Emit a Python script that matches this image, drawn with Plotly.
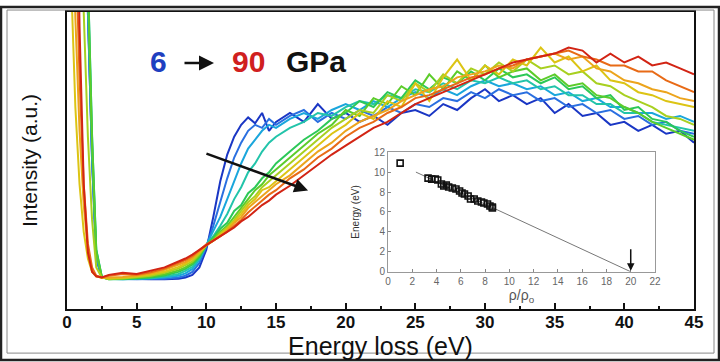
import plotly.graph_objects as go

# ---------------- data ----------------
energy = [0.3, 0.6, 0.9, 1.2, 1.5, 1.8, 2.1, 2.5,
          3, 4, 5, 6, 7, 8,
          8.5, 9, 9.5, 10, 10.5, 11, 11.5, 12, 12.5, 13, 13.5, 14, 14.5, 15,
          16, 17, 18, 19, 20, 21, 22, 23, 24, 25, 26, 27, 28, 29, 30,
          31, 32, 33, 34, 35, 36, 37, 38, 39, 40, 41, 42, 43, 44, 45]

s_blue = [420, 330, 240, 160, 100, 50, 17, 10.6,
          10.4, 10.2, 10.1, 10.0, 10.0, 10.2,
          10.6, 11.5, 14, 20, 31, 43, 52, 58, 62, 64.5, 62.5, 66, 60, 63,
          66, 63, 69, 64, 66, 63, 65, 62, 66, 67, 65, 69, 67, 71, 74,
          70, 72, 69, 71, 66, 69, 65, 66, 62, 63, 60, 62, 59, 60, 56]
s_mblue = [420, 330, 240, 160, 100, 50, 17, 10.6,
           10.3, 10.1, 10.0, 10.1, 10.2, 10.6,
           11.2, 12.5, 15.5, 21, 28, 36, 44, 51, 56, 60, 62, 61, 64, 62,
           65, 67, 63, 66, 64, 67, 65, 68, 66, 69, 68, 71, 70, 73, 71,
           74, 72, 73, 70, 71, 68, 69, 66, 67, 64, 65, 62, 63, 60, 59]
s_cyan = [420, 330, 240, 160, 102, 52, 18, 10.6,
          10.2, 10.0, 10.1, 10.3, 10.6, 11.2,
          12, 13.5, 16.5, 21.5, 26, 31, 37, 43, 49, 54, 57, 60, 62, 61,
          64, 66, 64, 67, 69, 67, 70, 68, 71, 73, 71, 74, 72, 75, 77,
          75, 76, 74, 75, 72, 73, 70, 71, 68, 68, 66, 66, 64, 65, 63]
s_teal = [440, 350, 260, 175, 112, 58, 20, 10.8,
          10.1, 10.0, 10.2, 10.4, 10.9, 11.8,
          12.8, 14.2, 17, 21.5, 24.5, 28, 32, 37, 41, 46, 49, 53, 56, 58,
          61, 63, 66, 65, 68, 70, 69, 72, 71, 74, 73, 76, 74, 77, 76,
          78, 76, 77, 74, 75, 72, 72, 69, 69, 66, 66, 63, 62, 61, 60]
s_green = [440, 350, 260, 175, 112, 58, 20, 10.8,
           10.0, 10.1, 10.3, 10.6, 11.3, 12.5,
           13.5, 15, 17.5, 21.5, 24, 27, 29, 33, 35, 39, 41, 44, 46, 49,
           53, 57, 60, 64, 66, 70, 68, 73, 71, 77, 74, 78, 76, 80, 77,
           81, 78, 79, 76, 78, 74, 75, 71, 72, 67, 68, 64, 63, 60, 58]
s_green2 = [430, 340, 250, 170, 108, 55, 19, 10.8,
            10.0, 10.2, 10.5, 10.9, 11.7, 13,
            14, 15.5, 18, 21.5, 23.5, 26, 28, 31, 34, 37, 40, 42, 45, 47,
            51, 55, 59, 62, 67, 65, 71, 69, 75, 72, 79, 74, 80, 77, 82,
            78, 80, 81, 77, 79, 75, 76, 72, 71, 68, 66, 63, 61, 59, 57]
s_ygreen = [300, 220, 150, 100, 58, 30, 14, 10.6,
            10.2, 10.3, 10.7, 11.2, 12.2, 13.6,
            14.8, 16, 18.5, 21.5, 23, 25.5, 27.5, 30, 33, 36, 38, 41, 43, 45,
            49, 53, 57, 61, 64, 67, 66, 72, 70, 76, 73, 79, 76, 81, 79,
            83, 80, 84, 81, 82, 79, 80, 76, 75, 72, 70, 68, 65, 64, 62]
s_yellow = [110, 68, 42, 26, 17, 12.5, 11, 10.5,
            10.3, 10.5, 11, 11.6, 12.6, 14.2,
            15.3, 16.8, 19, 21.5, 23, 25, 27, 29.5, 32, 35, 37, 40, 41, 43,
            47, 51, 55, 59, 62, 66, 64, 70, 68, 76, 70, 78, 84, 77, 82,
            79, 84, 82, 88, 83, 85, 80, 82, 77, 76, 73, 72, 70, 69, 68]
s_gold = [160, 98, 60, 35, 20, 13, 11, 10.5,
          10.6, 10.8, 11.3, 12, 13.2, 14.8,
          15.8, 17.2, 19.4, 21.5, 23, 24.5, 26.5, 29, 31, 34, 36, 38, 40, 42,
          45, 49, 53, 56, 60, 63, 65, 67, 70, 72, 74, 75, 78, 79, 80,
          82, 81, 84, 85, 86, 84, 85, 81, 80, 77, 76, 74, 73, 71, 70]
s_orange = [200, 128, 78, 42, 22, 14, 11.2, 10.6,
            11.2, 11.8, 11.5, 12.4, 13.6, 15.4,
            16.5, 17.8, 19.8, 21.8, 23, 24.5, 26, 28, 30, 32.5, 34.5, 36.5, 38.5, 40,
            44, 47, 51, 54, 58, 61, 63, 66, 68, 71, 72, 74, 76, 78, 79,
            81, 82, 84, 85, 86, 87, 85, 84, 82, 82, 80, 80, 77, 75, 73]
s_red = [300, 180, 95, 42, 19, 12.5, 11, 10.6,
         11.5, 12.2, 11.8, 12.8, 14, 16,
         17, 18.3, 20, 21.5, 23, 24.5, 26, 27.5, 29.5, 31, 33, 35, 36.5, 38.5,
         41.5, 45, 48.5, 52, 55, 58, 61, 63, 66, 69, 71, 73, 75, 77, 79,
         81, 83, 84, 85, 86, 88, 87, 83, 86, 83, 85, 82, 83, 81, 79]

series = [s_blue, s_mblue, s_cyan, s_teal, s_green, s_green2,
          s_ygreen, s_yellow, s_gold, s_orange, s_red]
colors = ["#1a36c4", "#2a6fe0", "#1aa6dc", "#22c4aa", "#2cc858", "#5ccc2a",
          "#a8d020", "#dcc414", "#eca41c", "#e86a16", "#d22414"]

# inset data
rho = [1.0, 3.3, 3.6, 3.9, 4.1, 4.4, 4.6, 4.8, 5.0, 5.3, 5.6, 5.9, 6.1, 6.3,
       6.6, 6.8, 7.1, 7.4, 7.7, 7.9, 8.2, 8.4, 8.6, 8.6]
e_plasmon = [10.9, 9.4, 9.3, 9.3, 9.2, 8.8, 8.6, 8.7, 8.5, 8.4, 8.3, 8.1, 7.9, 7.8,
             7.6, 7.3, 7.3, 7.1, 7.0, 6.9, 6.8, 6.6, 6.5, 6.4]
fit_rho = [2.3, 20.0]
fit_e = [10.0, 0.0]

x_ticks = [0, 5, 10, 15, 20, 25, 30, 35, 40, 45]

# ---------------- figure ----------------
fig = go.Figure()
for s, c in zip(series, colors):
    fig.add_trace(go.Scatter(x=energy, y=s, mode="lines",
                             line=dict(color=c, width=2), showlegend=False,
                             hoverinfo="skip"))

fig.add_trace(go.Scatter(x=fit_rho, y=fit_e, mode="lines",
                         line=dict(color="#777777", width=1),
                         xaxis="x2", yaxis="y2", showlegend=False))
fig.add_trace(go.Scatter(x=rho, y=e_plasmon, mode="markers",
                         marker=dict(symbol="square-open", size=6,
                                     color="#111111", line=dict(width=1.6)),
                         xaxis="x2", yaxis="y2", showlegend=False))

FONT = "Liberation Sans, Arial, sans-serif"
L, R, T, B = 67, 26, 6, 53
W, H = 720, 362
pw, ph = W - L - R, H - T - B

def px_x(p):
    return (p - L) / pw

def px_y(p):
    return (H - B - p) / ph

def dx(p):
    return (p - L) / pw * 45

def dy(p):
    return (H - B - p) / ph * 100

fig.update_layout(
    width=W, height=H,
    margin=dict(l=L, r=R, t=T, b=B),
    paper_bgcolor="white", plot_bgcolor="white",
    font=dict(family=FONT, color="#111111"),
    showlegend=False,
    xaxis=dict(range=[0, 45], tickvals=x_ticks, ticks="inside", ticklen=6,
               tickwidth=2, tickcolor="#111111",
               minor=dict(dtick=2.5, tick0=0, ticks="inside", ticklen=3,
                          tickwidth=2, tickcolor="#111111"),
               showline=True, linecolor="#111111", linewidth=2, mirror=True,
               showgrid=False, zeroline=False, ticklabelstandoff=-3,
               tickfont=dict(size=17, family=FONT, weight="bold", color="#111111"),
               title=dict(text="Energy loss (eV)", standoff=0,
                          font=dict(size=25, family=FONT, color="#111111"))),
    yaxis=dict(range=[0, 100], showticklabels=False, ticks="",
               showline=True, linecolor="#111111", linewidth=2, mirror=True,
               showgrid=False, zeroline=False,
               title=dict(text="Intensity (a.u.)", standoff=22,
                          font=dict(size=21, family=FONT, color="#111111"))),
    xaxis2=dict(domain=[px_x(388), px_x(655)], anchor="y2", range=[0, 22],
                dtick=2, ticks="inside", ticklen=3, tickcolor="#888888",
                showline=True, linecolor="#999999", linewidth=1, mirror=True,
                showgrid=False, zeroline=False,
                tickfont=dict(size=10, color="#666666", family=FONT),
                title=dict(text="ρ/ρ<sub>o</sub>", standoff=1,
                           font=dict(size=14, color="#555555", family=FONT))),
    yaxis2=dict(domain=[px_y(271), px_y(149)], anchor="x2", range=[0, 12],
                dtick=2, ticks="inside", ticklen=3, tickcolor="#888888",
                showline=True, linecolor="#999999", linewidth=1, mirror=True,
                showgrid=False, zeroline=False,
                tickfont=dict(size=10, color="#666666", family=FONT),
                title=dict(text="Energy (eV)", standoff=12,
                           font=dict(size=10, color="#333333", family=FONT))),
    shapes=[
        dict(type="rect", xref="paper", yref="paper",
             x0=px_x(388), x1=px_x(655), y0=px_y(271), y1=px_y(149),
             fillcolor="white", line=dict(width=0), layer="below"),
        dict(type="rect", xref="paper", yref="paper",
             x0=px_x(7), x1=px_x(714), y0=px_y(354), y1=px_y(4),
             line=dict(color="#888888", width=1)),
        dict(type="rect", xref="paper", yref="paper",
             x0=px_x(1), x1=px_x(719), y0=px_y(361), y1=px_y(1),
             line=dict(color="#222222", width=2.5)),
    ],
    annotations=[
        dict(text="6", x=dx(158), y=dy(57), xref="x", yref="y", showarrow=False,
             font=dict(size=30, family=FONT, weight="bold", color="#1f3fc0")),
        dict(text="90", x=dx(248), y=dy(57), xref="x", yref="y", showarrow=False,
             font=dict(size=30, family=FONT, weight="bold", color="#d02020")),
        dict(text="GPa", x=dx(316), y=dy(57), xref="x", yref="y", showarrow=False,
             font=dict(size=30, family=FONT, weight="bold", color="#111111")),
        dict(x=dx(214), y=dy(58), ax=dx(183), ay=dy(58), xref="x", yref="y",
             axref="x", ayref="y", showarrow=True, arrowhead=2,
             arrowsize=1.2, arrowwidth=2.5, arrowcolor="#111111", text=""),
        dict(x=17.3, y=39.9, ax=9.9, ay=52.5, xref="x", yref="y",
             axref="x", ayref="y", showarrow=True, arrowhead=2,
             arrowsize=1.1, arrowwidth=2.5, arrowcolor="#111111", text=""),
        dict(x=20, y=0.1, ax=20, ay=2.4, xref="x2", yref="y2",
             axref="x2", ayref="y2", showarrow=True, arrowhead=2,
             arrowsize=1, arrowwidth=1.5, arrowcolor="#111111", text=""),
    ],
)

fig.write_html("out.html",
               config={"displayModeBar": False},
               post_script="document.body.style.margin='0px';"
                           "document.body.style.overflow='hidden';")
